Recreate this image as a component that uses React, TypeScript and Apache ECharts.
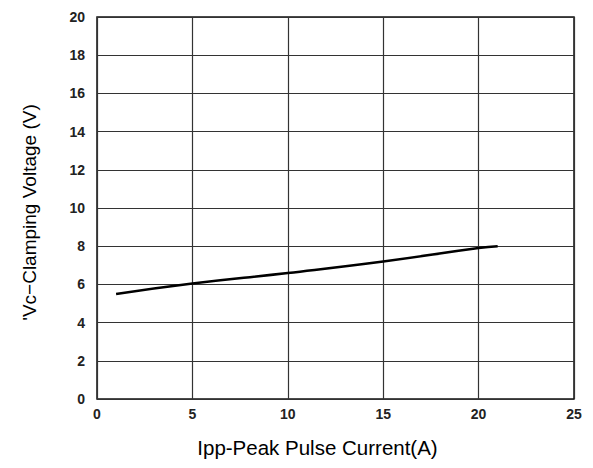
import React, { useEffect, useRef } from "react";
import * as echarts from "echarts";

const currentA = [1, 5, 10, 15, 20, 21];
const clampV = [5.5, 6.05, 6.6, 7.2, 7.9, 8.0];
const xName = "Ipp-Peak Pulse Current(A)";
const yName = "'Vc\u2212Clamping Voltage (V)";

export default function App() {
  const ref = useRef<HTMLDivElement>(null);
  useEffect(() => {
    const chart = echarts.init(ref.current!, null, { renderer: "svg" });
    const tickLabel = {
      fontFamily: "Liberation Sans, Arial, sans-serif",
      fontWeight: "bold" as const,
      fontSize: 14,
      color: "#222",
    };
    chart.setOption({
      animation: false,
      backgroundColor: "#fff",
      grid: { left: 97, top: 17, right: 19, bottom: 69, show: true, borderColor: "#111", borderWidth: 1.5 },
      xAxis: {
        type: "value",
        min: 0,
        max: 25,
        interval: 5,
        name: xName,
        nameLocation: "middle",
        nameGap: 38,
        nameTextStyle: {
          fontFamily: "Liberation Sans, Arial, sans-serif",
          fontSize: 20.5,
          color: "#000",
          padding: [0, 36, 0, 0],
        },
        axisLine: { show: false },
        axisTick: { show: false },
        axisLabel: { ...tickLabel, margin: 8 },
        splitLine: { show: true, lineStyle: { color: "#333", width: 1.2 } },
      },
      yAxis: {
        type: "value",
        min: 0,
        max: 20,
        interval: 2,
        name: yName,
        nameLocation: "middle",
        nameGap: 58,
        nameRotate: 90,
        nameTextStyle: {
          fontFamily: "Liberation Sans, Arial, sans-serif",
          fontSize: 19,
          color: "#000",
          padding: [0, 9, 0, 0],
        },
        axisLine: { show: false },
        axisTick: { show: false },
        axisLabel: { ...tickLabel, margin: 12 },
        splitLine: { show: true, lineStyle: { color: "#333", width: 1.2 } },
      },
      series: [
        {
          type: "line",
          data: currentA.map((x, i) => [x, clampV[i]]),
          smooth: true,
          symbol: "none",
          lineStyle: { color: "#000", width: 2.5 },
        },
      ],
    });
    return () => chart.dispose();
  }, []);
  return <div ref={ref} style={{ position: "fixed", left: 0, top: 0, width: 593, height: 468 }} />;
}
